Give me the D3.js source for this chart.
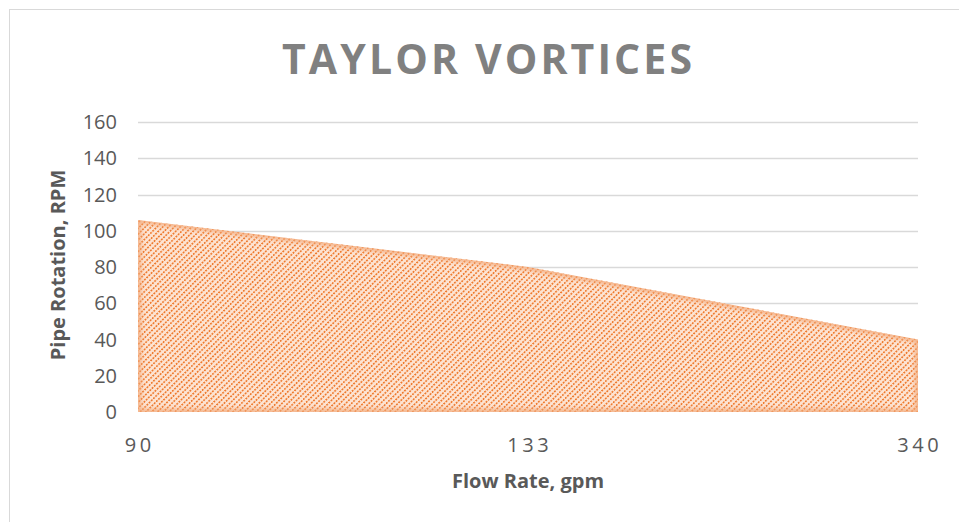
<!DOCTYPE html>
<html>
<head>
<meta charset="utf-8">
<script src="https://cdn.jsdelivr.net/npm/d3@7"></script>
<style>
  html, body { margin: 0; padding: 0; background: #fff; }
  svg { display: block; }
</style>
</head>
<body>
<svg id="chart" width="959" height="522"></svg>
<script>
// Flow rate categories (gpm) and the pipe rotation boundary (RPM)
const flowRates = ["90", "133", "340"];
const rotationRPM = [106, 80, 40];
const yTicks = [0, 20, 40, 60, 80, 100, 120, 140, 160];

const chartTitle = "TAYLOR VORTICES";
const xTitle = "Flow Rate, gpm";
const yTitle = "Pipe Rotation, RPM";

const svg = d3.select("#chart");
const plot = { left: 138, right: 918, top: 122, bottom: 412 };

const x = d3.scalePoint().domain(flowRates).range([plot.left, plot.right]);
const y = d3.scaleLinear().domain([0, 160]).range([plot.bottom, plot.top]);

const defs = svg.append("defs");

// Dotted upward-diagonal hatch: dots laid along a tile rotated -45°
const pat = defs.append("pattern")
  .attr("id", "hatch")
  .attr("patternUnits", "userSpaceOnUse")
  .attr("width", 3.1).attr("height", 4.1)
  .attr("patternTransform", "rotate(-45)");
pat.append("rect").attr("width", 3.1).attr("height", 4.1).attr("fill", "#fde4d3");
pat.append("rect").attr("x", 0).attr("y", 0)
  .attr("width", 1.9).attr("height", 1.7).attr("fill", "#ee7a2e");

// Soft inner edge of the area
const blur = defs.append("filter").attr("id", "soft")
  .attr("x", "-5%").attr("y", "-5%").attr("width", "110%").attr("height", "110%");
blur.append("feGaussianBlur").attr("stdDeviation", 2);

// Chart frame
svg.append("rect")
  .attr("x", 9.5).attr("y", 9.5).attr("width", 1000).attr("height", 600)
  .attr("fill", "#fff").attr("stroke", "#d9d9d9").attr("stroke-width", 1);

// Gridlines
svg.append("g")
  .selectAll("line")
  .data(yTicks.filter(d => d > 0))
  .join("line")
  .attr("x1", plot.left).attr("x2", plot.right)
  .attr("y1", d => Math.round(y(d)) + 0.5).attr("y2", d => Math.round(y(d)) + 0.5)
  .attr("stroke", "#d9d9d9").attr("stroke-width", 1.3);

// Area
const area = d3.area()
  .x((d, i) => x(flowRates[i]))
  .y0(y(0))
  .y1(d => y(d));

const areaPath = area(rotationRPM);

defs.append("clipPath").attr("id", "areaClip")
  .append("path").attr("d", areaPath);

svg.append("path")
  .attr("d", areaPath)
  .attr("fill", "url(#hatch)");

svg.append("path")
  .attr("d", areaPath)
  .attr("fill", "none")
  .attr("stroke", "#f2a878")
  .attr("stroke-width", 6)
  .attr("opacity", 0.8)
  .attr("filter", "url(#soft)")
  .attr("clip-path", "url(#areaClip)");

// Y axis tick labels
svg.append("g")
  .selectAll("text")
  .data(yTicks)
  .join("text")
  .attr("x", 117)
  .attr("y", d => y(d))
  .attr("dy", "0.36em")
  .attr("text-anchor", "end")
  .attr("font-family", "'Open Sans', sans-serif")
  .attr("font-size", 20)
  .attr("fill", "#595959")
  .text(d => d);

// X axis tick labels (letter-spaced)
svg.append("g")
  .selectAll("text")
  .data(flowRates)
  .join("text")
  .attr("x", d => x(d) + 1.75)
  .attr("y", 452)
  .attr("text-anchor", "middle")
  .attr("font-family", "'Open Sans', sans-serif")
  .attr("font-size", 20)
  .attr("letter-spacing", 3.5)
  .attr("fill", "#595959")
  .text(d => d);

// Title
svg.append("text")
  .attr("x", 282).attr("y", 74)
  .attr("textLength", 410)
  .attr("lengthAdjust", "spacing")
  .attr("font-family", "'Open Sans', sans-serif")
  .attr("font-weight", "bold")
  .attr("font-size", 41)
  .attr("fill", "#808080")
  .text(chartTitle);

// Axis titles
svg.append("text")
  .attr("x", (plot.left + plot.right) / 2)
  .attr("y", 487.5)
  .attr("text-anchor", "middle")
  .attr("font-family", "'Open Sans', sans-serif")
  .attr("font-weight", "bold")
  .attr("font-size", 20)
  .attr("fill", "#595959")
  .text(xTitle);

svg.append("text")
  .attr("transform", `translate(65, 265) rotate(-90)`)
  .attr("text-anchor", "middle")
  .attr("font-family", "'Open Sans', sans-serif")
  .attr("font-weight", "bold")
  .attr("font-size", 20)
  .attr("fill", "#595959")
  .text(yTitle);
</script>
</body>
</html>
